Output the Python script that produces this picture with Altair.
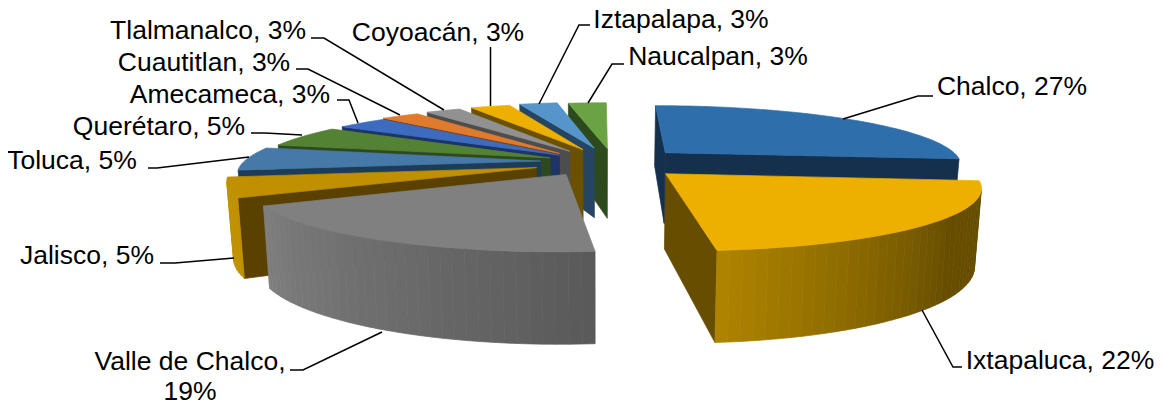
import math
import altair as alt
import pandas as pd

# ---- chart values, clockwise from the top of the pie
categories = ["Chalco", "Ixtapaluca", "Valle de Chalco", "Jalisco", "Toluca", "Querétaro",
              "Amecameca", "Cuautitlan", "Tlalmanalco", "Coyoacán", "Iztapalapa", "Naucalpan"]
drawn_share = [26.8, 21.8, 19.0, 5.2, 6.2, 5.6, 3.3, 2.5, 2.3, 2.6, 2.5, 2.5]
explode_x = [.226, .213, -.11, -.21, -.20, -.17, -.14, -.14, -.105, -.06, -.02, .026]
explode_y = [-.197, .16, .17, .06, -.05, -.105, -.155, -.185, -.225, -.255, -.28, -.27]
top_colors = ["#2E6FAB", "#EEB000", "#808080", "#C09000", "#4679A8", "#548235",
              "#3D6CBE", "#E07B2E", "#919191", "#EEB000", "#5595CA", "#6BA344"]
face_colors = ["#15304D", "#664D00", "#5A5A5A", "#5A4100", "#1D3C58", "#2E4A1D",
               "#1C3468", "#6F3E18", "#4D4D4D", "#6B5000", "#254562", "#2D4A1C"]
draw_order = [11, 10, 9, 8, 7, 6, 5, 4, 3, 0, 1, 2]

# wall shading: (near-edge colour, far-edge colour, fraction where the shading ends)
wall_shade = {1: ("#B08500", "#664D00", 0.62), 2: ("#5A5A5A", "#808080", 1.0)}

# ---- data labels and their leader lines (layout)
label_text = ["Chalco, 27%", "Ixtapaluca, 22%", "Valle de Chalco,", "19%", "Jalisco, 5%", "Toluca, 5%",
              "Querétaro, 5%", "Amecameca, 3%", "Cuautitlan, 3%", "Tlalmanalco, 3%", "Coyoacán, 3%",
              "Iztapalapa, 3%", "Naucalpan, 3%"]
label_x = [1012, 1060, 190, 190, 87, 72, 159, 230, 204, 208, 438, 681, 718]
label_y = [87, 361, 362, 392, 256, 161, 127, 95, 63, 31, 33, 20, 57]
leaders = [
    [(843, 119), (918, 96), (933, 96)],
    [(922, 310), (953, 367), (962, 367)],
    [(382, 332), (303, 370), (290, 370)],
    [(234, 258), (175, 263), (160, 263)],
    [(249, 157), (157, 168), (148, 168)],
    [(302, 135), (265, 133), (251, 133)],
    [(358, 123), (349, 100), (337, 100)],
    [(400, 115), (308, 69), (296, 69)],
    [(444, 110), (324, 38), (311, 38)],
    [(490.5, 106), (490.5, 47)],
    [(539, 104), (579, 25), (590, 25)],
    [(588, 103), (612, 64), (624, 64)],
]

# ---- perspective of the tilted pie
VX, A, K, HOR, C, DEPTH, SHRINK = 600, 299, 0.18, -165, 329, 73, 0.982


def project(X, Y, bottom=False):
    w = 1 / (1 - K * Y)
    sx = VX + A * X * w
    sy = HOR + C * w
    if bottom:
        sx = VX + (sx - VX) * SHRINK
        sy = sy + DEPTH * w
    return sx, sy


def mix(c1, c2, t):
    a = [int(c1[i:i + 2], 16) for i in (1, 3, 5)]
    b = [int(c2[i:i + 2], 16) for i in (1, 3, 5)]
    return "#%02x%02x%02x" % tuple(round(p + (q - p) * t) for p, q in zip(a, b))


rows = []
poly_id = [0]


def add_poly(pts, color):
    for i, (x, y) in enumerate(pts):
        rows.append({"poly": poly_id[0], "seq": i, "x": x, "y": y, "color": color})
    poly_id[0] += 1


def signed(pts):
    return sum(pts[i][0] * pts[(i + 1) % len(pts)][1] - pts[(i + 1) % len(pts)][0] * pts[i][1]
               for i in range(len(pts)))


total = sum(drawn_share)
starts = []
a0 = -90.0
for s in drawn_share:
    starts.append(a0)
    a0 += s * 360 / total

for idx in draw_order:
    a1 = starts[idx]
    a2 = a1 + drawn_share[idx] * 360 / total
    n = max(6, int((a2 - a1) / 2.0))
    ex, ey = explode_x[idx], explode_y[idx]
    rim = [(ex + math.cos(math.radians(a1 + (a2 - a1) * i / n)),
            ey + math.sin(math.radians(a1 + (a2 - a1) * i / n))) for i in range(n + 1)]
    apex = (ex, ey)
    wall = [apex, rim[0]], [rim[-1], apex]
    for p, q in wall:
        quad = [project(*p), project(*q), project(*q, bottom=True), project(*p, bottom=True)]
        if signed(quad) < 0:
            add_poly(quad, face_colors[idx])
    for i in range(n):
        p, q = rim[i], rim[i + 1]
        quad = [project(*p), project(*q), project(*q, bottom=True), project(*p, bottom=True)]
        if signed(quad) < 0:
            if idx in wall_shade:
                near, far, end = wall_shade[idx]
                t = min(1.0, (n - i) / n / end) if idx == 1 else i / n
                add_poly(quad, mix(near, far, t))
            else:
                add_poly(quad, top_colors[idx] if idx == 3 else face_colors[idx])
    add_poly([project(*apex)] + [project(*p) for p in rim], top_colors[idx])

polys = pd.DataFrame(rows)

xs = alt.Scale(domain=[8, 1157], range=[0, 1149], nice=False, zero=False)
ys = alt.Scale(domain=[8, 405], range=[0, 397], nice=False, zero=False)
X = alt.X("x:Q", scale=xs, axis=None)
Y = alt.Y("y:Q", scale=ys, axis=None)

pie = alt.Chart(polys).mark_line(interpolate="linear-closed", strokeWidth=0.7, strokeJoin="round").encode(
    x=X, y=Y,
    fill=alt.Fill("color:N", scale=None),
    stroke=alt.Stroke("color:N", scale=None),
    detail="poly:N",
    order="seq:Q",
)

leader_rows = [{"id": i, "seq": j, "x": p[0], "y": p[1]} for i, l in enumerate(leaders) for j, p in enumerate(l)]
lines = alt.Chart(pd.DataFrame(leader_rows)).mark_line(color="#000000", strokeWidth=1.5).encode(
    x=X, y=Y, detail="id:N", order="seq:Q")

labels = alt.Chart(pd.DataFrame({"text": label_text, "x": label_x, "y": label_y})).mark_text(
    font="Liberation Sans", fontSize=26.5, color="#000000", align="center", baseline="middle"
).encode(x=X, y=Y, text="text:N")

chart = (pie + lines + labels).properties(
    width=1149, height=397, padding=0, background="white",
    autosize=alt.AutoSizeParams(type="none"),
).configure_view(stroke=None)
chart.save("out.html", embed_options={"renderer": "svg", "actions": False})
